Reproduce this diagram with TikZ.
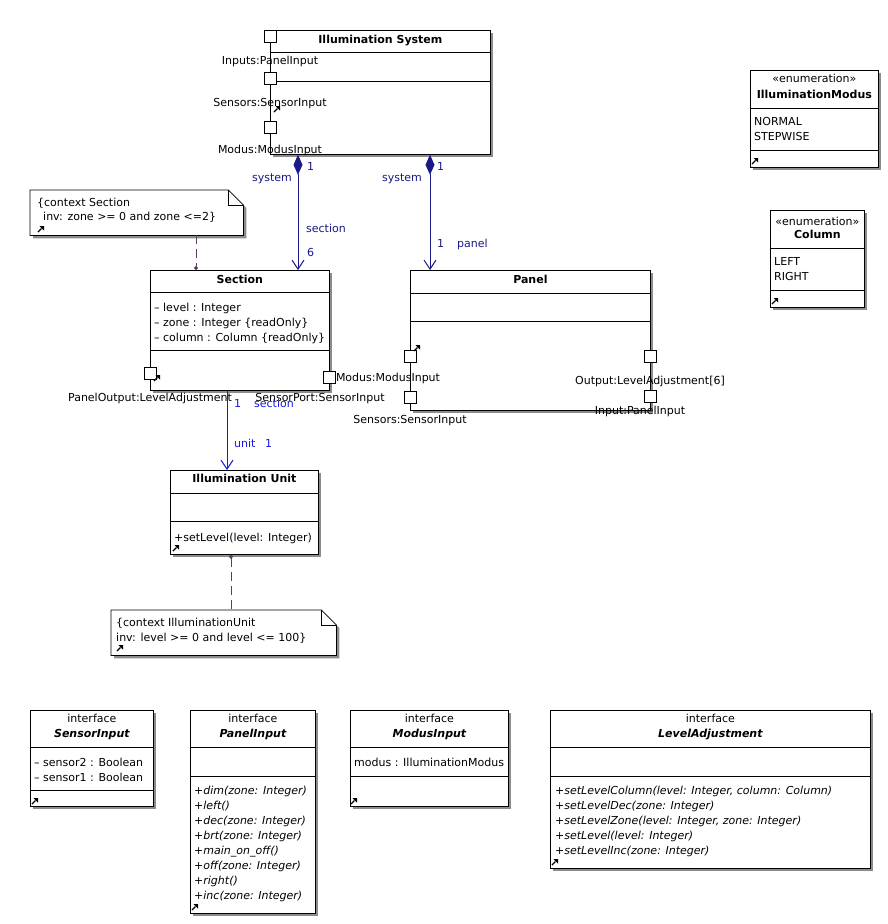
\documentclass[tikz,border=0pt]{standalone}
\usepackage{fontspec}
\setmainfont{DejaVu Sans}
\usetikzlibrary{arrows.meta,shadows}
\definecolor{assocnavy}{RGB}{25,25,135}
\definecolor{assocblue}{RGB}{25,25,225}
\definecolor{constrline}{RGB}{90,60,100}
\newcommand{\pinmark}[2]{\draw[line width=1.1pt] (#1,#2) -- ++(3.5,-3.5); \fill (#1,#2) ++(1.5,-6) -- ++(4.5,0) -- ++(0,4.5) -- cycle;}
\newcommand{\notebox}[1]{\draw[line width=0.8pt,fill=white,drop shadow={shadow xshift=3pt,shadow yshift=-3pt,fill=black!45,opacity=1}] (#1.north west) -- ([xshift=-15pt]#1.north east) -- ([yshift=-15pt]#1.north east) -- (#1.south east) -- (#1.south west) -- cycle;
  \draw[line width=0.8pt] ([xshift=-15pt]#1.north east) -- ([xshift=-15pt,yshift=-15pt]#1.north east) -- ([yshift=-15pt]#1.north east);}
\begin{document}
\begin{tikzpicture}[x=1pt,y=-1pt,
  lbl/.style={inner sep=0,font=\fontsize{11}{13}\selectfont},
  ttl/.style={inner sep=0,font=\fontsize{11}{13}\selectfont\bfseries,anchor=base},
  ifc/.style={inner sep=0,font=\fontsize{11}{13}\selectfont\bfseries\itshape,anchor=base},
  albl/.style={lbl,text=assocnavy},
  blbl/.style={lbl,text=assocblue},
  cls/.style={draw,fill=white,line width=0.8pt,anchor=north west,inner sep=0,drop shadow={shadow xshift=3pt,shadow yshift=-3pt,fill=black!45,opacity=1}},
  port/.style={draw,fill=white,line width=0.8pt,minimum size=12,inner sep=0},
  comp/.style={draw=assocnavy,line width=1pt,{Diamond[length=20pt,width=9pt]}-{Straight Barb[length=9pt,width=12pt]}},
  assoc/.style={draw=assocblue,line width=1pt,-{Straight Barb[length=9pt,width=12pt]}},
  constr/.style={draw=constrline,line width=0.9pt,dash pattern=on 9pt off 5pt}]
\useasboundingbox[fill=white] (0,0) rectangle (888,924);
% classes
\node[cls,minimum width=220,minimum height=124] (sys) at (270,30) {};
\node[cls,minimum width=179,minimum height=120] (sec) at (150,270) {};
\node[cls,minimum width=240,minimum height=140] (pan) at (410,270) {};
\node[cls,minimum width=148,minimum height=84] (unit) at (170,470) {};
\node[cls,minimum width=128,minimum height=97] (modus) at (750,70) {};
\node[cls,minimum width=94,minimum height=97] (col) at (770,210) {};
\node[cls,minimum width=123,minimum height=96] (si) at (30,710) {};
\node[cls,minimum width=125,minimum height=203] (pi) at (190,710) {};
\node[cls,minimum width=158,minimum height=96] (mi) at (350,710) {};
\node[cls,minimum width=320,minimum height=158] (la) at (550,710) {};
\foreach \n/\y in {sys/52,sys/81,sec/292,sec/350,pan/293,pan/321,unit/493,unit/521,modus/108,modus/150,col/248,col/290,si/747,si/790,pi/747,pi/776,mi/747,mi/776,la/747,la/776}
  \draw[line width=0.8pt] (\n.west |- 0,\y) -- (\n.east |- 0,\y);
% notes
\node[anchor=north west,minimum width=213,minimum height=45,inner sep=0] (noteSec) at (30,190) {};
\notebox{noteSec}
\node[anchor=north west,minimum width=225,minimum height=45,inner sep=0] (noteUnit) at (111,610) {};
\notebox{noteUnit}
\node[lbl,anchor=base west] (noteSecA) at (37,206) {\{context Section};
\node[lbl,anchor=base west] (noteSecB) at (43,220) {inv: zone >= 0 and zone <=2\}};
\node[lbl,anchor=base west] (noteUnitA) at (116,626) {\{context IlluminationUnit};
\node[lbl,anchor=base west] (noteUnitB) at (116,641) {inv: level >= 0 and level <= 100\}};
% ports
\node[port] (sysIn) at (270,36) {};
\node[port] (sysSen) at (270,78) {};
\node[port] (sysMod) at (270,127) {};
\node[port] (secOut) at (150,373) {};
\node[port] (secSen) at (329,377) {};
\node[port] (panMod) at (410,356) {};
\node[port] (panSen) at (410,397) {};
\node[port] (panOut) at (650,356) {};
\node[port] (panIn) at (650,396) {};
\node[lbl,anchor=base] (sysInL) at (270,64) {Inputs:PanelInput};
\node[lbl,anchor=base] (sysSenL) at (270,106) {Sensors:SensorInput};
\node[lbl,anchor=base] (sysModL) at (270,153) {Modus:ModusInput};
\node[lbl,anchor=base] (secOutL) at (150,401) {PanelOutput:LevelAdjustment};
\node[lbl,anchor=base] (secSenL) at (320,401) {SensorPort:SensorInput};
\node[lbl,anchor=base] (panModL) at (388,381) {Modus:ModusInput};
\node[lbl,anchor=base] (panSenL) at (410,423) {Sensors:SensorInput};
\node[lbl,anchor=base] (panOutL) at (650,384) {Output:LevelAdjustment[6]};
\node[lbl,anchor=base] (panInL) at (640,414) {Input:PanelInput};
% titles and compartments
\node[ttl] (sysT) at (sys.north |- 0,43) {Illumination System};
\node[ttl] (secT) at (sec.north |- 0,283) {Section};
\node[ttl] (panT) at (pan.north |- 0,283) {Panel};
\node[ttl] (unitT) at (unit.north |- 0,482) {Illumination Unit};
\node[lbl,anchor=base] (modusS) at (modus.north |- 0,82) {«enumeration»};
\node[ttl] (modusT) at (modus.north |- 0,98) {IlluminationModus};
\node[lbl,anchor=base] (colS) at (col.north |- 0,225) {«enumeration»};
\node[ttl] (colT) at (col.north |- 0,238) {Column};
\foreach \n/\t in {si/SensorInput,pi/PanelInput,mi/ModusInput,la/LevelAdjustment}{
  \node[lbl,anchor=base] (\n S) at (\n.north |- 0,722) {interface};
  \node[ifc] (\n T) at (\n.north |- 0,737) {\t};}
\foreach \t [count=\i] in {{– level : Integer},{– zone : Integer \{readOnly\}},{– column : Column \{readOnly\}}}
  \node[lbl,anchor=base west] (secA\i) at (154,296+15*\i) {\t};
\node[lbl,anchor=base west] (unitM) at (174,541) {+setLevel(level: Integer)};
\foreach \t [count=\i] in {NORMAL,STEPWISE}
  \node[lbl,anchor=base west] (modusA\i) at (754,110+15*\i) {\t};
\foreach \t [count=\i] in {LEFT,RIGHT}
  \node[lbl,anchor=base west] (colA\i) at (774,250+15*\i) {\t};
\foreach \t [count=\i] in {{– sensor2 : Boolean},{– sensor1 : Boolean}}
  \node[lbl,anchor=base west] (siA\i) at (34,751+15*\i) {\t};
\node[lbl,anchor=base west] (miA) at (354,766) {modus : IlluminationModus};
\foreach \t [count=\i] in {{+dim(zone: Integer)},{+left()},{+dec(zone: Integer)},{+brt(zone: Integer)},{+main\_on\_off()},{+off(zone: Integer)},{+right()},{+inc(zone: Integer)}}
  \node[lbl,anchor=base west,font=\fontsize{11}{13}\selectfont\itshape] (piM\i) at (194,779+15*\i) {\t};
\foreach \t [count=\i] in {{+setLevelColumn(level: Integer, column: Column)},{+setLevelDec(zone: Integer)},{+setLevelZone(level: Integer, zone: Integer)},{+setLevel(level: Integer)},{+setLevelInc(zone: Integer)}}
  \node[lbl,anchor=base west,font=\fontsize{11}{13}\selectfont\itshape] (laM\i) at (555,779+15*\i) {\t};
% pins
\pinmark{274}{112}\pinmark{154}{381}\pinmark{414}{351}\pinmark{173}{551}
\pinmark{38}{232}\pinmark{117}{651}\pinmark{752}{164}\pinmark{772}{304}
\pinmark{32}{804}\pinmark{192}{910}\pinmark{351}{804}\pinmark{552}{865}
% connectors
\draw[comp] ([xshift=28pt]sys.south west) -- ([xshift=148pt]sec.north west);
\draw[comp] ([xshift=160pt]sys.south west) -- ([xshift=20pt]pan.north west);
\draw[assoc] ([xshift=77pt]sec.south west) -- ([xshift=57pt]unit.north west);
\draw[constr,-{Circle[length=4pt]}] ([xshift=166pt]noteSec.south west) -- ([xshift=46pt]sec.north west);
\draw[constr,{Circle[length=4pt]}-] ([xshift=61pt]unit.south west) -- ([xshift=120pt]noteUnit.north west);
\node[albl,anchor=base west] (m1) at (307,170) {1};
\node[albl,anchor=base east] (r1) at (292,181) {system};
\node[albl,anchor=base west] (r2) at (306,232) {section};
\node[albl,anchor=base west] (m2) at (307,256) {6};
\node[albl,anchor=base west] (m3) at (437,170) {1};
\node[albl,anchor=base east] (r3) at (422,181) {system};
\node[albl,anchor=base west] (m4) at (437,247) {1};
\node[albl,anchor=base west] (r4) at (457,247) {panel};
\node[blbl,anchor=base west] (m5) at (234,407) {1};
\node[blbl,anchor=base west] (r5) at (254,407) {section};
\node[blbl,anchor=base west] (r6) at (234,447) {unit};
\node[blbl,anchor=base west] (m6) at (265,447) {1};
\end{tikzpicture}
\end{document}
